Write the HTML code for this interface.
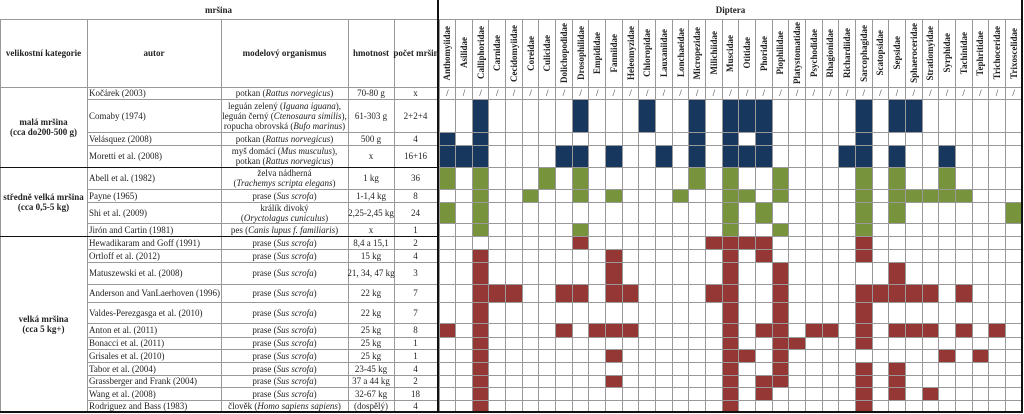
<!DOCTYPE html>
<html><head><meta charset="utf-8">
<style>
body{margin:0;background:#fff;}
#t{position:relative;width:1024px;height:414px;overflow:hidden;font-family:"Liberation Serif",serif;font-size:9px;color:#222;background:#fff;}
.c{position:absolute;box-sizing:border-box;display:flex;align-items:center;justify-content:center;text-align:center;line-height:10px;white-space:nowrap;}
.l{justify-content:flex-start;padding-left:2px;}
.b{font-weight:bold;}
.hl{position:absolute;background:#999;}
.bl{position:absolute;background:#111;}
.v{writing-mode:vertical-rl;transform:rotate(180deg);font-weight:bold;font-size:9px;}
</style></head><body>
<div id="t"></div>
<script>
const families=["Anthomyiidae","Asilidae","Calliphoridae","Carnidae","Cecidomyiidae","Coreidae","Culicidae","Dolichopodidae","Drosophilidae","Empididae","Fanniidae","Heleomyzidae","Chloropidae","Lauxaniidae","Lonchaeidae","Micropezidae","Milichiidae","Muscidae","Otitidae","Phoridae","Piophilidae","Platystomatidae","Psychodidae","Rhagionidae","Richardiidae","Sarcophagidae","Scatopsidae","Sepsidae","Sphaeroceridae","Stratiomyidae","Syrphidae","Tachinidae","Tephritidae","Trichoceridae","Trixoscelidae"];
const authors=["Kočárek (2003)","Comaby (1974)","Velásquez (2008)","Moretti et al. (2008)","Abell et al. (1982)","Payne (1965)","Shi et al. (2009)","Jirón and Cartin (1981)","Hewadikaram and Goff (1991)","Ortloff et al. (2012)","Matuszewski et al. (2008)","Anderson and VanLaerhoven (1996)","Valdes-Perezgasga et al. (2010)","Anton et al. (2011)","Bonacci et al. (2011)","Grisales et al. (2010)","Tabor et al. (2004)","Grassberger and Frank (2004)","Wang et al. (2008)","Rodriguez and Bass (1983)"];
const organisms=["potkan (<i>Rattus norvegicus</i>)","leguán zelený (<i>Iguana iguana</i>),<br>leguán černý (<i>Ctenosaura similis</i>),<br>ropucha obrovská (<i>Bufo marinus</i>)","potkan (<i>Rattus norvegicus</i>)","myš domácí (<i>Mus musculus</i>),<br>potkan (<i>Rattus norvegicus</i>)","želva nádherná<br>(<i>Trachemys scripta elegans</i>)","prase (<i>Sus scrofa</i>)","králík divoký<br>(<i>Oryctolagus cuniculus</i>)","pes (<i>Canis lupus f. familiaris</i>)","prase (<i>Sus scrofa</i>)","prase (<i>Sus scrofa</i>)","prase (<i>Sus scrofa</i>)","prase (<i>Sus scrofa</i>)","prase (<i>Sus scrofa</i>)","prase (<i>Sus scrofa</i>)","prase (<i>Sus scrofa</i>)","prase (<i>Sus scrofa</i>)","prase (<i>Sus scrofa</i>)","prase (<i>Sus scrofa</i>)","prase (<i>Sus scrofa</i>)","člověk (<i>Homo sapiens sapiens</i>)"];
const weights=["70-80 g","61-303 g","500 g","x","1 kg","1-1,4 kg","2,25-2,45 kg","x","8,4 a 15,1","15 kg","21, 34, 47 kg","22 kg","22 kg","25 kg","25 kg","25 kg","23-45 kg","37 a 44 kg","32-67 kg","(dospělý)"];
const counts=["x","2+2+4","4","16+16","36","8","24","1","2","4","3","7","7","8","1","1","4","2","18","4"];
const sizeClass=[0,0,0,0,1,1,1,1,2,2,2,2,2,2,2,2,2,2,2,2];
const presence=[
"slash",
[2,8,12,15,17,18,19,25,27,28],
[0,2,15,17,19,25],
[0,1,2,7,8,10,13,15,17,18,19,24,25,27,30],
[0,2,6,8,15,17,20,25,27,30],
[2,5,8,10,14,17,18,20,25,27,28,29,30,31],
[0,2,17,19,25,27,34],
[2,8,17,20,25],
[8,16,17,18,19,25],
[2,10,17,19,25],
[2,10,17,20,27],
[2,3,4,7,8,10,11,16,17,20,25,26,27,28,29,31],
[2,17,20,25],
[0,2,7,9,10,11,17,19,20,22,23,25,27,28,29,31,33],
[2,17,20,21,25],
[2,10,17,18,20,30,32],
[2,17,20,25,27],
[2,10,17,19,20,25,27],
[2,17,19,25,27,29],
[2,17,25]];
const classNames=["malá mršina<br>(cca do200-500 g)","středně velká mršina<br>(cca 0,5-5 kg)","velká mršina<br>(cca 5 kg+)"];
const classColors=["#17375e","#77933c","#953735"];

const rowY=[87,99,132,145,167,189,202,223,236,249,262,284,302,323,337,349,362,375,387,400,412];
const colX=[0,87,221,348,394,438];
const gx0=439, cw=(1022-439)/35;
const T=document.getElementById('t');
function box(cls,x,y,w,h,html,name){
  const d=document.createElement('div');d.className=cls;
  d.style.left=x+'px';d.style.top=y+'px';d.style.width=w+'px';d.style.height=h+'px';
  if(html!=null)d.innerHTML='<span>'+html+'</span>';
  
  
  T.appendChild(d);return d;
}
presence.forEach((p,r)=>{
  if(p==="slash"){families.forEach((f,k)=>{box('c',gx0+k*cw,rowY[r],cw,rowY[r+1]-rowY[r],'/','slash-cell');});return;}
  p.forEach(k=>{
    const d=box('c',gx0+k*cw,rowY[r],cw,rowY[r+1]-rowY[r],null,'presence-cell');
    d.style.background=classColors[sizeClass[r]];
  });
});
for(let k=0;k<=35;k++){box('hl',gx0+k*cw-0.5,19,1,393,null,'grid-vline');}
rowY.forEach(y=>{box('hl',gx0,y-0.5,583,1,null,'grid-hline');box('hl',87,y-0.5,351,1,null,'grid-hline');});
box('hl',0,19,1022,1,null,'grid-hline');box('hl',0,86.5,1022,1,null,'grid-hline');
colX.forEach(x=>{box('hl',x,19,1,393,null,'grid-vline');});
box('bl',437,0,2,412,null,'divider-line');
box('bl',1021,0,2,412,null,'right-border');
box('bl',0,411,1023,1.5,null,'bottom-border');
[167,236].forEach(y=>box('bl',0,y-0.5,439,1.5,null,'class-separator'));
box('c b',0,0,437,19,'mršina','carcass-header');
box('c b',439,0,583,19,'Diptera','diptera-header');
const hd=["velikostní kategorie","autor","modelový organismus","hmotnost","počet mršin"];
hd.forEach((h,i)=>box('c b',colX[i],19,colX[i+1]-colX[i],68,h,'column-header'));
families.forEach((f,k)=>{
  const d=document.createElement('div');d.className='c';
  d.style.left=(gx0+k*cw)+'px';d.style.top='19px';d.style.width=cw+'px';d.style.height='68px';
  d.innerHTML='<span class="v">'+f+'</span>';
  
  
  T.appendChild(d);
});
authors.forEach((a,r)=>{
  const y=rowY[r],h=rowY[r+1]-rowY[r];
  box('c l',87,y,134,h,a,'author-cell');
  box('c',221,y,127,h,organisms[r],'organism-cell');
  box('c',348,y,46,h,weights[r],'weight-cell');
  box('c',394,y,43,h,counts[r],'count-cell');
});
const classSpan=[[87,167],[167,236],[236,412]];
classNames.forEach((n,i)=>box('c b',0,classSpan[i][0],87,classSpan[i][1]-classSpan[i][0],n,'size-category'));
</script>
</body></html>
